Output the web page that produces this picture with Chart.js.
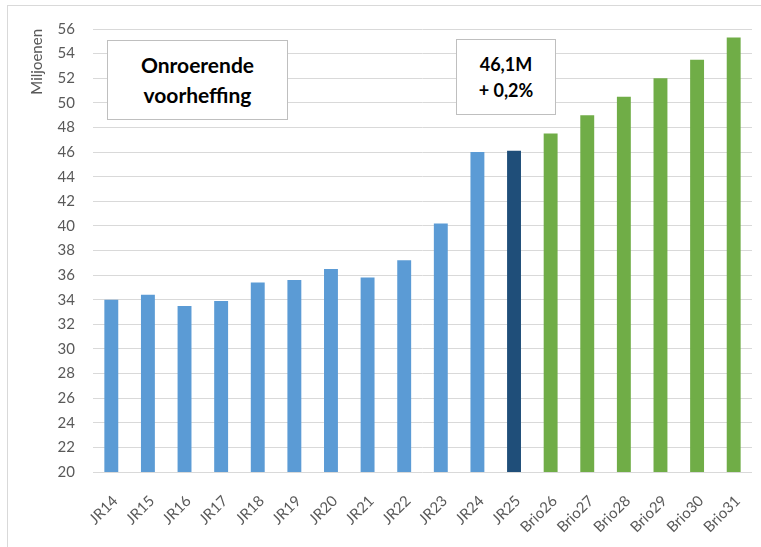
<!DOCTYPE html>
<html>
<head>
<meta charset="utf-8">
<script src="https://cdn.jsdelivr.net/npm/chart.js@4/dist/chart.umd.min.js"></script>
<style>
  html, body { margin: 0; padding: 0; background: #fff; }
  #wrap { position: relative; width: 761px; height: 547px; }
  #frame { position: absolute; left: 7px; top: 5px; width: 760px; height: 545px; border: 1px solid #d9d9d9; box-sizing: border-box; }
  .box { position: absolute; background: #fff; border: 1px solid #bfbfbf; box-sizing: border-box;
         font-family: Lato, "Open Sans", sans-serif; font-weight: bold; color: #000; text-align: center;
         display: flex; align-items: center; justify-content: center; }
  #box1 { left: 107px; top: 40px; width: 181px; height: 80px; font-size: 21px; line-height: 30px; }
  #box2 { left: 456px; top: 39px; width: 100px; height: 76px; font-size: 18px; line-height: 26px; }
</style>
</head>
<body>
<div id="wrap">
  <div id="frame"></div>
  <canvas id="chart" width="761" height="547"></canvas>
  <div class="box" id="box1">Onroerende<br>voorheffing</div>
  <div class="box" id="box2">46,1M<br>+ 0,2%</div>
</div>
<script>
// Onroerende voorheffing per jaar (miljoen euro)
const categories = ['JR14', 'JR15', 'JR16', 'JR17', 'JR18', 'JR19', 'JR20', 'JR21', 'JR22', 'JR23', 'JR24', 'JR25',
                    'Brio26', 'Brio27', 'Brio28', 'Brio29', 'Brio30', 'Brio31'];
const values = [34.0, 34.4, 33.5, 33.9, 35.4, 35.6, 36.5, 35.8, 37.2, 40.2, 46.0, 46.1,
                47.5, 49.0, 50.5, 52.0, 53.5, 55.3];
const yTicks = [20, 56, 2]; // min, max, stap

const barColors = categories.map(c => {
    if (c === 'JR25') return '#1f4e79';
    if (c.startsWith('Brio')) return '#70ad47';
    return '#5b9bd5';
});

const tickFont = { family: 'Lato, "Open Sans", sans-serif', size: 15 };

const ctx = document.getElementById('chart').getContext('2d');
new Chart(ctx, {
    type: 'bar',
    data: {
        labels: categories,
        datasets: [{
            data: values,
            backgroundColor: barColors,
            barPercentage: 0.76,
            categoryPercentage: 0.5
        }]
    },
    options: {
        responsive: false,
        animation: false,
        layout: { padding: { left: 28, top: 29, right: 9, bottom: 0 } },
        plugins: { legend: { display: false }, tooltip: { enabled: false } },
        scales: {
            x: {
                grid: { display: false },
                border: { display: false },
                ticks: { color: '#595959', font: tickFont, minRotation: 45, maxRotation: 45, padding: 12, labelOffset: 4 },
                afterFit: s => { s.height = 75; }
            },
            y: {
                min: yTicks[0],
                max: yTicks[1],
                ticks: { stepSize: yTicks[2], color: '#595959', font: tickFont, padding: 18 },
                grid: { color: '#d9d9d9', drawTicks: false },
                border: { display: false },
                title: { display: true, text: 'Miljoenen', align: 'end', color: '#595959',
                         font: { family: 'Lato, "Open Sans", sans-serif', size: 15 }, padding: 0 },
                afterFit: s => { s.width = 65; }
            }
        }
    }
});
</script>
</body>
</html>
